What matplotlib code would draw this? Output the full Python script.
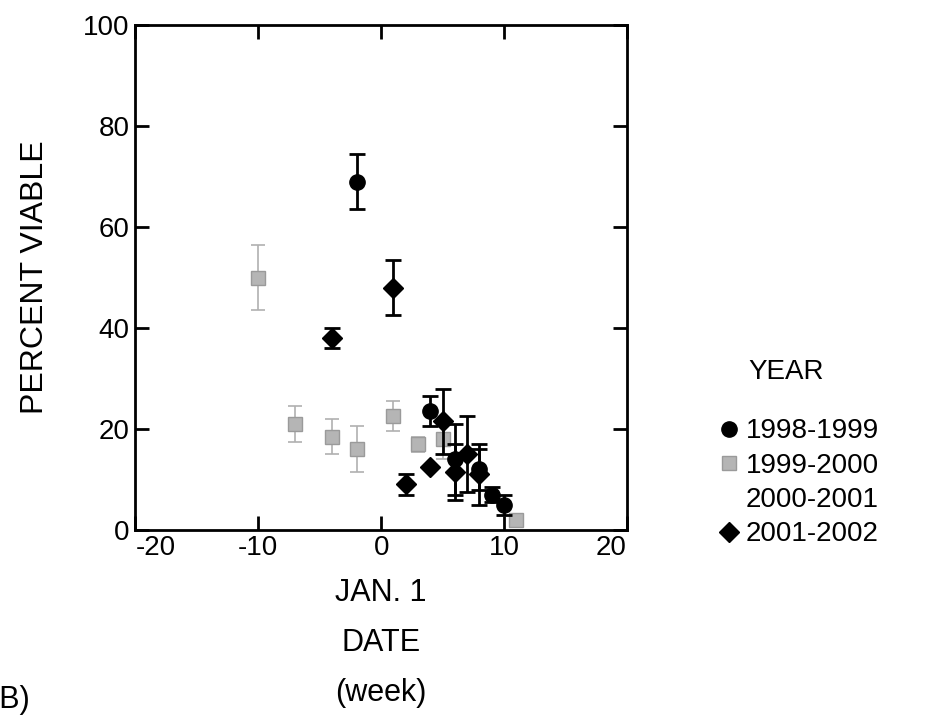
import matplotlib.pyplot as plt
from matplotlib.lines import Line2D

plt.rcParams['font.family'] = ['Liberation Sans', 'DejaVu Sans']
plt.rcParams['axes.unicode_minus'] = False

# week relative to Jan. 1, percent viable, error half-width
week_9899 = [-2, 4, 6, 8, 9, 10]
pct_9899 = [69, 23.5, 14, 12, 7, 5]
err_9899 = [5.5, 3, 7, 4, 1.5, 2]

week_9900 = [-10, -7, -4, -2, 1, 3, 5, 11]
pct_9900 = [50, 21, 18.5, 16, 22.5, 17, 18, 2]
err_9900 = [6.5, 3.5, 3.5, 4.5, 3, 1.5, 4, 1]

week_0001 = []
pct_0001 = []

week_0102 = [-4, 1, 2, 4, 5, 6, 7, 8]
pct_0102 = [38, 48, 9, 12.5, 21.5, 11.5, 15, 11]
err_0102 = [2, 5.5, 2, 0, 6.5, 5.5, 7.5, 6]

years = ['1998-1999', '1999-2000', '2000-2001', '2001-2002']

fig = plt.figure(figsize=(9.47, 7.19), dpi=100)
ax = fig.add_axes([0.143, 0.263, 0.519, 0.702])

ax.errorbar(week_9900, pct_9900, yerr=err_9900, fmt='s', ms=10, color='#b5b5b5',
            mec='#9a9a9a', ecolor='#b0b0b0', elinewidth=1.2, capsize=5, capthick=1.2,
            ls='none', zorder=2)
ax.plot(week_0001, pct_0001, '^', ms=10, color='white', ls='none', zorder=2)
ax.errorbar(week_9899, pct_9899, yerr=err_9899, fmt='o', ms=11, color='black',
            ecolor='black', elinewidth=2, capsize=6, capthick=2, ls='none', zorder=3)
ax.errorbar(week_0102, pct_0102, yerr=err_0102, fmt='D', ms=10, color='black',
            ecolor='black', elinewidth=2, capsize=6, capthick=2, ls='none', zorder=3)

ax.set_xlim(-20, 20)
ax.set_ylim(0, 100)
ax.set_xticks([-20, -10, 0, 10, 20])
ax.set_yticks([0, 20, 40, 60, 80, 100])
ax.tick_params(direction='in', length=10, width=2, labelsize=20,
               top=True, right=True, pad=4)
xt = ax.get_xticklabels()
xt[0].set_horizontalalignment('left')
xt[-1].set_horizontalalignment('right')
for sp in ax.spines.values():
    sp.set_linewidth(2)

ax.set_ylabel('PERCENT VIABLE', fontsize=23, labelpad=24)
ax.set_xlabel('JAN. 1\nDATE\n(week)', fontsize=22, linespacing=1.86, labelpad=12)

# legend to the right of the axes, markers only
handles = [
    Line2D([], [], marker='o', ms=11, color='black', ls='none'),
    Line2D([], [], marker='s', ms=10, color='#b5b5b5', mec='#9a9a9a', ls='none'),
    Line2D([], [], marker='^', ms=10, color='white', ls='none'),
    Line2D([], [], marker='D', ms=10, color='black', ls='none'),
]
fig.text(0.79, 0.482, 'YEAR', fontsize=20, va='center', ha='left')
fig.legend(handles, years, loc='upper left', bbox_to_anchor=(0.757, 0.418),
           frameon=False, fontsize=20, handletextpad=0.15, labelspacing=0.3,
           handlelength=0.9, borderaxespad=0, borderpad=0)

fig.text(-0.012, 0.005, '(B)', fontsize=22, ha='left', va='bottom')

fig.savefig('out.png', dpi=100)
